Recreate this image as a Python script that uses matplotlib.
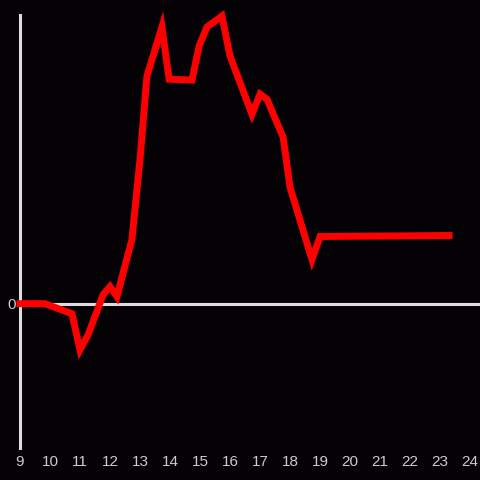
import matplotlib.pyplot as plt

# data
x_vals = [9, 9.83, 10.73, 11.0, 11.27, 11.77, 12.0, 12.23, 12.73, 13.0, 13.23,
          13.73, 13.97, 14.73, 14.97, 15.23, 15.73, 16.0, 16.73, 17.0, 17.23,
          17.77, 18.0, 18.73, 19.0, 23.3]
y_vals = [0, 0, -1.0, -4.6, -3.1, 0.9, 1.7, 0.7, 6.4, 14.4, 22.7,
          27.6, 22.4, 22.3, 25.7, 27.6, 28.7, 24.7, 18.9, 20.9, 20.4,
          16.6, 11.6, 4.4, 6.7, 6.8]
x_ticks = list(range(9, 25))

bg = "#040205"
fg = "#dddddd"

plt.rcParams["font.family"] = ["Liberation Sans", "DejaVu Sans"]

fig = plt.figure(figsize=(4.8, 4.8), dpi=100, facecolor=bg)
ax = fig.add_axes([20 / 480, 32 / 480, 460 / 480, 433 / 480])
ax.set_facecolor(bg)

ax.plot(x_vals, y_vals, color="#ff0000", linewidth=5, solid_joinstyle="miter",
        clip_on=False, zorder=3)
ax.axhline(0, color=fg, linewidth=2.2, zorder=2)

ax.set_xlim(9, 24.33)
ax.set_ylim(-14.4, 28.8)
ax.set_xticks(x_ticks)
ax.set_yticks([0])

for s in ["top", "right", "bottom"]:
    ax.spines[s].set_visible(False)
ax.spines["left"].set_color(fg)
ax.spines["left"].set_linewidth(2.2)

ax.tick_params(colors="#cccccc", labelsize=11, length=0, pad=5)
ax.tick_params(axis="y", pad=3)

fig.savefig("out.png", dpi=100, facecolor=bg)
